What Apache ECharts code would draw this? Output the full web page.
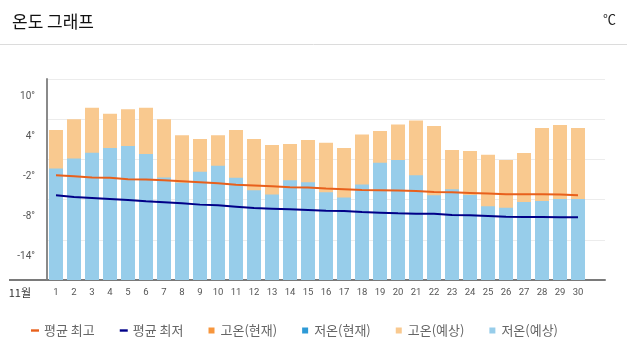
<!DOCTYPE html>
<html><head><meta charset="utf-8">
<script src="https://cdn.jsdelivr.net/npm/echarts@6/dist/echarts.min.js"></script>
<style>html,body{margin:0;padding:0;background:#fff}#c{width:627px;height:352px}</style>
</head><body><div id="c"></div>
<script>
const days = ['1','2','3','4','5','6','7','8','9','10','11','12','13','14','15','16','17','18','19','20','21','22','23','24','25','26','27','28','29','30'];
const yTicks = [-20, -14, -8, -2, 4, 10];
const avgHigh = [-4.35,-4.5,-4.7,-4.75,-4.95,-5.0,-5.1,-5.25,-5.4,-5.55,-5.8,-5.9,-6.0,-6.15,-6.2,-6.35,-6.45,-6.55,-6.6,-6.65,-6.7,-6.85,-6.9,-7.0,-7.1,-7.2,-7.2,-7.2,-7.25,-7.35];
const avgLow = [-7.35,-7.6,-7.75,-7.9,-8.05,-8.25,-8.4,-8.55,-8.75,-8.85,-9.05,-9.25,-9.35,-9.45,-9.55,-9.65,-9.7,-9.85,-9.95,-10.05,-10.1,-10.1,-10.3,-10.35,-10.45,-10.55,-10.6,-10.6,-10.65,-10.65];
const highNow = [];
const lowNow = [];
const highForecast = [2.4,4.0,5.7,4.8,5.5,5.7,4.0,1.6,1.05,1.6,2.4,1.05,0.15,0.3,0.9,0.5,-0.3,1.7,2.25,3.2,3.8,3.0,-0.6,-0.75,-1.3,-2.1,-1.05,2.7,3.15,2.7];
const lowForecast = [-3.35,-1.85,-1.0,-0.3,0.0,-1.2,-4.7,-5.5,-3.85,-2.95,-4.75,-6.6,-7.25,-5.1,-5.4,-6.9,-7.7,-5.75,-2.5,-2.1,-4.35,-7.35,-6.45,-7.3,-9.0,-9.2,-8.35,-8.2,-7.9,-7.9];

const KR = '"Noto Sans CJK KR", "Noto Sans", sans-serif';
const chart = echarts.init(document.getElementById('c'), null, {renderer: 'canvas'});
const sq = 'path://M0,0h10v10h-10z';
const dash = 'path://M0,0h10v3h-10z';
chart.setOption({
  animation: false,
  title: {text: '온도 그래프', left: 7, top: 8, textStyle: {fontSize: 17, fontWeight: 'normal', color: '#111', fontFamily: KR}},
  graphic: [
    {type: 'text', right: 11, top: 13, style: {text: '℃', fontSize: 13, fill: '#222', fontFamily: KR}},
    {type: 'line', shape: {x1: 0, y1: 44.5, x2: 627, y2: 44.5}, style: {stroke: '#dcdcdc', lineWidth: 1}},
    {type: 'line', shape: {x1: 9, y1: 280, x2: 48, y2: 280}, style: {stroke: '#7a7a7a', lineWidth: 2}}
  ],
  legend: {
    left: 26, top: 319, itemWidth: 8, itemHeight: 6, itemGap: 25,
    textStyle: {fontSize: 13, color: '#666', fontFamily: KR},
    data: [
      {name: '평균 최고', icon: dash}, {name: '평균 최저', icon: dash},
      {name: '고온(현재)', icon: sq}, {name: '저온(현재)', icon: sq},
      {name: '고온(예상)', icon: sq}, {name: '저온(예상)', icon: sq}
    ]
  },
  grid: {left: 47, right: 22, top: 79, bottom: 72, containLabel: false},
  xAxis: {
    type: 'category', data: days, max: days.length,
    name: '11월', nameLocation: 'start', nameGap: 16,
    nameTextStyle: {fontSize: 11, color: '#333', fontFamily: KR, verticalAlign: 'top', padding: [7, 0, 0, 0]},
    axisLine: {onZero: false, lineStyle: {color: '#7a7a7a', width: 2}},
    axisTick: {show: false},
    axisLabel: {fontSize: 9.5, color: '#555', margin: 8, fontFamily: 'Roboto, sans-serif', interval: 0,
      formatter: v => v}
  },
  yAxis: {
    type: 'value', min: yTicks[0], max: yTicks[yTicks.length - 1], interval: 6, startValue: yTicks[0],
    axisLine: {show: true, onZero: false, lineStyle: {color: '#8a8a8a', width: 2}},
    axisTick: {show: false},
    splitLine: {lineStyle: {color: '#ececec', width: 1}},
    axisLabel: {fontSize: 10, color: '#555', margin: 12, fontFamily: 'Roboto, sans-serif',
      verticalAlign: 'top', lineHeight: 14, padding: [10, 0, 0, 0], showMinLabel: false,
      formatter: v => v + '°'}
  },
  series: [
    {name: '평균 최고', type: 'line', data: avgHigh, symbol: 'none', z: 5, lineStyle: {color: '#e8601c', width: 2}, itemStyle: {color: '#e8601c'}},
    {name: '평균 최저', type: 'line', data: avgLow, symbol: 'none', z: 5, lineStyle: {color: '#000088', width: 2}, itemStyle: {color: '#000088'}},
    {name: '고온(현재)', type: 'bar', data: highNow, barWidth: 14, barGap: '-100%', itemStyle: {color: '#f7963d'}},
    {name: '저온(현재)', type: 'bar', data: lowNow, barWidth: 14, barGap: '-100%', itemStyle: {color: '#2e9ad6'}},
    {name: '고온(예상)', type: 'bar', data: highForecast, barWidth: 14, barGap: '-100%', itemStyle: {color: '#f9c98f'}},
    {name: '저온(예상)', type: 'bar', data: lowForecast, barWidth: 14, barGap: '-100%', itemStyle: {color: '#97cdea'}}
  ]
});
</script>
</body></html>
